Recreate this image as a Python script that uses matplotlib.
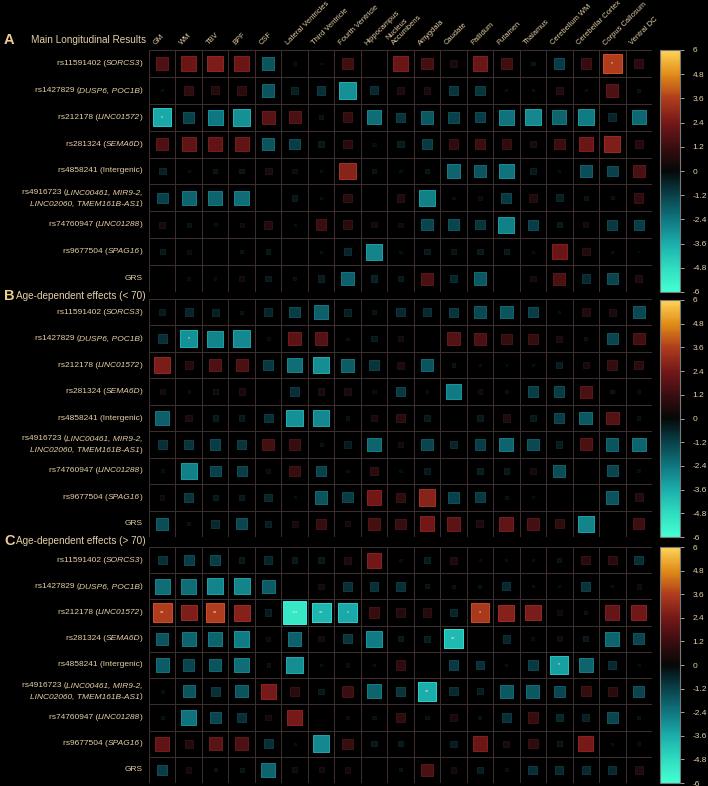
import numpy as np
import matplotlib
matplotlib.use('Agg')
import matplotlib.pyplot as plt
from matplotlib.colors import LinearSegmentedColormap, Normalize
from matplotlib.cm import ScalarMappable
from matplotlib.offsetbox import TextArea, HPacker, VPacker, AnnotationBbox

plt.rcParams['font.family'] = ['Liberation Sans', 'DejaVu Sans']
plt.rcParams['axes.unicode_minus'] = False

regions = ['GM', 'WM', 'TBV', 'BPF', 'CSF', 'Lateral Ventricles', 'Third Ventricle',
           'Fourth Ventricle', 'Hippocampus', 'Nucleus\nAccumbens', 'Amygdala', 'Caudate',
           'Pallidum', 'Putamen', 'Thalamus', 'Cerebellum WM', 'Cerebellar Cortex',
           'Corpus Callosum', 'Ventral DC']

# each label: list of lines, each line a list of (text, italic)
snp_labels = [
    [[('rs11591402 (', False), ('SORCS3', True), (')', False)]],
    [[('rs1427829 (', False), ('DUSP6, POC1B', True), (')', False)]],
    [[('rs212178 (', False), ('LINC01572', True), (')', False)]],
    [[('rs281324 (', False), ('SEMA6D', True), (')', False)]],
    [[('rs4858241 (Intergenic)', False)]],
    [[('rs4916723 (', False), ('LINC00461, MIR9-2,', True)],
     [('LINC02060, TMEM161B-AS1', True), (')', False)]],
    [[('rs74760947 (', False), ('LINC01288', True), (')', False)]],
    [[('rs9677504 (', False), ('SPAG16', True), (')', False)]],
    [[('GRS', False)]],
]

titles = ['Main Longitudinal Results', 'Age-dependent effects (< 70)', 'Age-dependent effects (> 70)']
letters = ['A', 'B', 'C']

# effect sizes (t-like values), rows = snps, cols = regions
main_vals = [
    [1.6, 2.2, 2.5, 2.2, -1.6, 0.1, 0.02, 1.3, 0.0, 2.2, 1.4, 0.4, 2.2, 1.3, -0.15, -1.1, 1.1, 3.6, 0.8],
    [0.05, 0.9, 0.7, 0.8, -1.6, -0.5, -0.8, -3.0, -0.7, 0.5, 0.5, -0.9, -0.9, 0.05, -0.05, 0.6, 0.05, 1.6, -0.1],
    [-3.5, -1.2, -2.4, -3.0, 1.8, 1.5, -0.15, 1.0, -2.2, -0.9, -1.7, -1.2, -1.1, -2.3, -2.8, -2.0, -2.5, -0.6, -2.1],
    [1.6, 2.0, 2.0, 2.0, -1.6, -1.1, -0.3, 0.8, 0.1, -0.4, -1.0, 0.9, 1.2, 0.9, 0.4, 1.2, 2.2, 2.6, 0.7],
    [-0.5, 0.05, -0.15, -0.2, 0.5, 0.2, 0.05, 2.8, -0.15, 0.05, -0.2, -2.0, -1.6, -2.3, -0.3, 0.05, -1.5, -1.2, 1.5],
    [-1.2, -2.0, -2.0, -2.2, 0.0, -0.3, -0.05, 0.8, 0.0, 0.6, -2.6, 0.05, 0.15, -1.0, 0.6, -0.5, -0.15, -0.1, 0.9],
    [0.4, -0.15, 0.1, 0.15, 0.7, -0.05, 1.2, 0.8, 0.3, 0.2, -1.3, -1.3, -0.9, -2.6, -1.1, -0.3, 0.3, -1.0, -1.1],
    [-0.3, 0.15, 0.0, -0.1, -0.2, 0.0, -0.05, -0.6, -2.7, -0.05, -0.3, -0.2, -0.3, -0.3, -0.03, 2.2, 0.6, -0.05, 0.02],
    [0.0, 0.1, 0.05, 0.2, -0.3, -0.1, -0.4, -1.9, -0.5, -0.3, 1.5, -0.6, -1.7, 0.0, 0.3, 1.5, -0.7, -1.3, 0.5],
]
young_vals = [
    [-0.35, -0.6, -0.5, -0.1, -0.6, -1.1, -1.9, -0.5, -0.15, -0.7, -0.7, -0.9, -1.4, -1.6, -1.1, -0.05, 0.6, 0.5, -1.4],
    [-0.8, -3.0, -2.7, -2.8, 0.1, 1.9, 1.7, -0.05, -0.3, 0.3, 0.0, 1.7, 1.5, 1.1, 1.1, 0.4, -0.1, -1.3, 1.4],
    [2.5, 0.7, 1.6, 1.5, -1.0, -2.2, -2.9, -1.8, -0.9, 0.5, -1.6, -0.15, 0.05, 0.03, 0.03, -0.4, 0.4, 1.0, 0.8],
    [0.3, 0.05, 0.25, 0.4, 0.0, -0.8, 0.4, 0.4, 0.1, -1.0, 0.05, -2.5, 0.2, 0.1, -1.1, -1.1, 1.5, -0.15, 0.1],
    [-1.9, 0.5, -0.3, -0.3, -0.8, -3.0, -2.8, -0.1, 0.4, 0.8, -0.3, 0.0, -0.3, 0.6, -0.3, -1.1, -1.7, 1.7, -0.1],
    [-0.8, -0.9, -1.1, -0.9, 1.4, 1.1, -0.1, -0.4, -2.0, 0.3, -1.3, -0.6, -1.1, -2.0, -1.4, -0.4, 1.5, -1.6, -2.0],
    [0.1, -2.6, -1.2, -1.1, 0.2, 1.1, -1.2, 0.05, 0.8, 0.05, -0.3, 0.0, -0.4, -0.3, 0.3, -1.5, 0.0, -1.3, 0.1],
    [0.2, -0.9, -0.3, -0.3, -0.6, -0.05, -1.6, -1.1, 2.3, 0.9, 2.8, -1.2, -1.0, -0.1, 0.03, 0.0, 0.0, -1.6, 0.7],
    [-1.5, -0.1, -0.7, -1.3, -0.4, 0.35, 1.1, 0.3, 1.4, 1.1, 2.3, 1.9, 0.5, 2.0, 1.4, 0.9, -2.7, 0.0, 1.3],
]
old_vals = [
    [-0.8, -1.1, -1.1, -0.3, -0.6, -0.3, -0.3, 0.5, 2.3, 0.05, -0.4, 0.5, 0.02, 0.05, 0.05, -0.15, 0.8, 0.8, -0.8],
    [-2.2, -2.2, -2.7, -2.7, -1.8, 0.0, 0.3, -0.8, -0.8, -0.8, -0.15, -0.1, -0.1, -0.7, -0.05, 0.03, -0.9, 0.05, 0.2],
    [3.6, 2.6, 3.6, 2.7, -0.4, -5.2, -3.8, -3.5, 1.1, 0.7, 0.7, -0.6, 3.5, 2.7, 2.5, 0.2, -0.1, 2.1, 2.3],
    [-1.6, -2.0, -2.0, -2.5, 0.2, -1.9, 0.3, -0.9, -2.5, -0.3, -0.4, -3.9, 0.0, -0.6, 0.1, 0.3, -0.3, -2.0, -1.3],
    [-1.8, -1.3, -1.6, -2.2, -0.1, -2.9, -0.05, 0.1, -0.05, 0.9, 0.0, -1.0, -0.8, -0.05, -1.0, -3.3, -2.0, -0.7, 0.03],
    [0.1, -1.6, -0.8, -1.6, 2.4, 0.8, -0.3, 1.2, -2.0, -0.9, -3.6, -0.7, -0.4, -1.7, -1.7, -1.3, 1.1, 0.8, -1.3],
    [-0.1, -2.3, -1.3, -0.8, 0.3, 2.4, 0.0, 0.15, -0.1, 0.9, -0.1, 0.4, -0.1, -0.8, 1.1, -0.6, -0.5, -1.3, -0.1],
    [2.0, 0.7, 1.8, 1.6, -0.8, -0.05, -2.8, 1.1, -0.3, -0.3, 0.0, -0.4, 2.2, 0.4, 0.9, -0.2, 2.4, -0.05, 0.1],
    [-1.1, 0.3, -0.1, -0.15, -2.0, 0.25, 0.25, 0.3, 0.0, -0.1, 1.5, 0.3, -0.4, 0.1, -0.8, -0.7, -0.7, -0.7, 0.6],
]

# significance marks: (row, col, text)
main_stars = [(0, 17, '*'), (2, 0, '*')]
young_stars = [(1, 1, '*')]
old_stars = [(2, 0, '**'), (2, 2, '**'), (2, 5, '***'), (2, 6, '**'), (2, 7, '*'),
             (2, 12, '*'), (3, 11, '**'), (4, 15, '*'), (5, 10, '**')]

cbar_ticks = [6, 4.8, 3.6, 2.4, 1.2, 0, -1.2, -2.4, -3.6, -4.8, -6]

tan = '#e6cfa6'
gridc = '#3e3030'
W, H = 708, 786

cmap = LinearSegmentedColormap.from_list('icefire_like', [
    (0.0, '#44ffd2'), (0.1, '#2fdcc0'), (0.2, '#1badab'), (0.3, '#10767f'),
    (0.4, '#09414a'), (0.5, '#050808'), (0.6, '#3a0d10'), (0.7, '#741819'),
    (0.8, '#ae3c1d'), (0.9, '#e08c18'), (1.0, '#ffd457')])
norm = Normalize(-6, 6)


def px_box(x0, y0, x1, y1):
    return [x0 / W, 1 - y1 / H, (x1 - x0) / W, (y1 - y0) / H]


def row_label(ax, i, lines):
    rows = []
    for parts in lines:
        kids = [TextArea(t, textprops=dict(fontsize=6, color=tan,
                                           fontstyle='italic' if it else 'normal'))
                for t, it in parts]
        rows.append(HPacker(children=kids, pad=0, sep=0, align='baseline'))
    box = VPacker(children=rows, pad=0, sep=3, align='right')
    ab = AnnotationBbox(box, (-0.012, i + 0.5), xycoords=('axes fraction', 'data'),
                        box_alignment=(1, 0.5), frameon=False, pad=0,
                        annotation_clip=False)
    ax.add_artist(ab)


def draw_panel(ax, vals, stars, show_cols=False):
    vals = np.array(vals)
    nr, nc = vals.shape
    yy, xx = np.mgrid[0:nr, 0:nc]
    side = 24 * np.sqrt(np.abs(vals) / 6)
    cols = cmap(norm(vals.ravel()))
    edges = np.clip(cols[:, :3] * 1.3 + 0.02, 0, 1)
    ax.scatter(xx.ravel() + 0.5, yy.ravel() + 0.5, s=(side.ravel() * 0.72) ** 2,
               c=cols, marker='s', edgecolors=edges, linewidths=0.6, zorder=3)
    ax.vlines(np.arange(nc + 1), 0, nr, color=gridc, lw=0.7, zorder=1)
    ax.hlines(np.arange(nr + 1), 0, nc, color=gridc, lw=0.7, zorder=1)
    for r, c, t in stars:
        ax.text(c + 0.5, r + 0.5, t, ha='center', va='center', fontsize=4,
                color='#f4e6da', zorder=4)
    ax.set_xlim(0, nc)
    ax.set_ylim(nr, 0)
    ax.set_facecolor('black')
    for s in ax.spines.values():
        s.set_visible(False)
    ax.set_xticks([])
    ax.set_yticks([])
    for i, lines in enumerate(snp_labels):
        row_label(ax, i, lines)
    if show_cols:
        for j, name in enumerate(regions):
            ax.text(j + 0.3, -0.12, name, rotation=45, rotation_mode='anchor',
                    ha='left', va='bottom', fontsize=5.4, color=tan,
                    linespacing=1.0)


fig = plt.figure(figsize=(W / 100, H / 100), dpi=100, facecolor='black')

panels = [
    (main_vals, main_stars, (149, 50, 652, 292), (660, 50, 680, 292), 40),
    (young_vals, young_stars, (149, 299, 652, 537), (660, 300, 680, 537), 296),
    (old_vals, old_stars, (149, 547, 652, 783), (660, 547, 680, 783), 541),
]

for k, (vals, stars, box, cbox, ty) in enumerate(panels):
    ax = fig.add_axes(px_box(*box))
    draw_panel(ax, vals, stars, show_cols=(k == 0))

    cax = fig.add_axes(px_box(*cbox))
    cb = fig.colorbar(ScalarMappable(norm=norm, cmap=cmap), cax=cax, ticks=cbar_ticks)
    cb.ax.set_yticklabels(['%g' % t for t in cbar_ticks])
    cb.ax.tick_params(labelsize=6, labelcolor=tan, color='#bbbbbb', length=3, width=0.6, pad=6)
    cb.outline.set_edgecolor('#777777')
    cb.outline.set_linewidth(0.8)

    fig.text(4 / W, 1 - ty / H, letters[k], fontsize=10.5, fontweight='bold',
             color='#f0cc94', va='center', ha='left')
    fig.text(146 / W, 1 - ty / H, titles[k], fontsize=7.2, color=tan,
             va='center', ha='right')

fig.savefig('out.png', dpi=100, facecolor='black')
